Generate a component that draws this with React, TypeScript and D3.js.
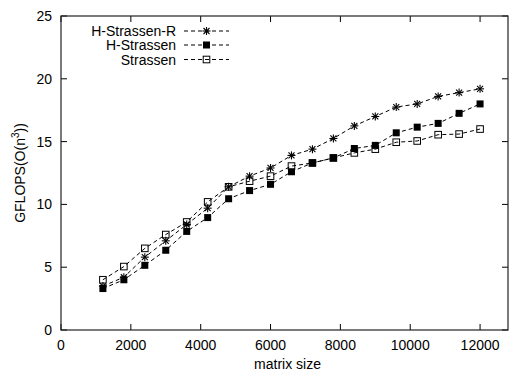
import React from "react";
import * as d3 from "d3";

const sizes = [1200, 1800, 2400, 3000, 3600, 4200, 4800, 5400, 6000, 6600, 7200, 7800, 8400, 9000, 9600, 10200, 10800, 11400, 12000];
const hStrassenR = [3.5, 4.2, 5.8, 7.1, 8.4, 9.7, 11.4, 12.25, 12.9, 13.9, 14.4, 15.25, 16.25, 17.0, 17.75, 18.0, 18.6, 18.9, 19.2];
const hStrassen = [3.3, 4.0, 5.15, 6.35, 7.85, 8.95, 10.45, 11.1, 11.6, 12.6, 13.3, 13.7, 14.45, 14.7, 15.7, 16.15, 16.45, 17.25, 18.0];
const strassen = [4.0, 5.05, 6.5, 7.6, 8.6, 10.2, 11.4, 11.85, 12.25, 13.05, 13.3, 13.7, 14.1, 14.4, 14.95, 15.05, 15.55, 15.6, 16.0];
const xTicks = [0, 2000, 4000, 6000, 8000, 10000, 12000];
const yTicks = [0, 5, 10, 15, 20, 25];
const seriesNames = ["H-Strassen-R", "H-Strassen", "Strassen"];

const W = 514, H = 371;
const L = 61, R = 508, T = 16, B = 330;
const FONT = "'Liberation Sans', Arial, Helvetica, sans-serif";

function Marker({ kind, x, y }: { kind: number; x: number; y: number }) {
  if (kind === 0) {
    const s = 4, d = 3;
    return (
      <g stroke="#000" strokeWidth={1.1}>
        <line x1={x - s} y1={y} x2={x + s} y2={y} />
        <line x1={x} y1={y - s} x2={x} y2={y + s} />
        <line x1={x - d} y1={y - d} x2={x + d} y2={y + d} />
        <line x1={x - d} y1={y + d} x2={x + d} y2={y - d} />
      </g>
    );
  }
  if (kind === 1) {
    return <rect x={x - 3.5} y={y - 3.5} width={7} height={7} fill="#000" />;
  }
  return <rect x={x - 3.3} y={y - 3.3} width={6.6} height={6.6} fill="none" stroke="#000" strokeWidth={1} />;
}

export default function App() {
  const x = d3.scaleLinear().domain([0, 12800]).range([L, R]);
  const y = d3.scaleLinear().domain([0, 25]).range([B, T]);
  const all = [hStrassenR, hStrassen, strassen];
  const line = d3
    .line<number>()
    .x((_, i) => x(sizes[i]))
    .y((v) => y(v));

  const legendRows = [36, 50, 64.5];
  return (
    <svg width={W} height={H} style={{ position: "absolute", left: 0, top: 0, background: "#fff" }} fontFamily={FONT}>
      <rect x={0} y={0} width={W} height={H} fill="#fff" />
      {/* ticks */}
      <g stroke="#000" strokeWidth={1}>
        {xTicks.map((t) => (
          <g key={"xt" + t}>
            <line x1={x(t)} y1={B} x2={x(t)} y2={B - 6} />
            <line x1={x(t)} y1={T} x2={x(t)} y2={T + 6} />
          </g>
        ))}
        {yTicks.map((t) => (
          <g key={"yt" + t}>
            <line x1={L} y1={y(t)} x2={L + 6} y2={y(t)} />
            <line x1={R} y1={y(t)} x2={R - 6} y2={y(t)} />
          </g>
        ))}
      </g>
      <rect x={L} y={T} width={R - L} height={B - T} fill="none" stroke="#222" strokeWidth={1.2} />
      {/* tick labels */}
      <g fontSize={14} fill="#000">
        {xTicks.map((t) => (
          <text key={"xl" + t} x={x(t)} y={350} textAnchor="middle">
            {t}
          </text>
        ))}
        {yTicks.map((t) => (
          <text key={"yl" + t} x={52} y={y(t) + 5} textAnchor="end">
            {t}
          </text>
        ))}
      </g>
      <text x={(L + R) / 2 + 3} y={369} textAnchor="middle" fontSize={14}>
        matrix size
      </text>
      <text transform={`translate(25,${(T + B) / 2}) rotate(-90)`} textAnchor="middle" fontSize={14}>
        GFLOPS(O(n<tspan dy={-6} fontSize={10}>3</tspan><tspan dy={6}>))</tspan>
      </text>
      {/* series */}
      {all.map((s, k) => (
        <g key={"s" + k}>
          <path d={line(s) || ""} fill="none" stroke="#000" strokeWidth={1} strokeDasharray="4,3" />
          {s.map((v, i) => (
            <Marker key={i} kind={k} x={x(sizes[i])} y={y(v)} />
          ))}
        </g>
      ))}
      {/* legend */}
      {seriesNames.map((n, k) => (
        <g key={"lg" + k}>
          <text x={176} y={legendRows[k]} textAnchor="end" fontSize={14}>
            {n}
          </text>
          <line x1={184} y1={legendRows[k] - 5} x2={229} y2={legendRows[k] - 5} stroke="#000" strokeWidth={1} strokeDasharray="4,3" />
          <Marker kind={k} x={206.5} y={legendRows[k] - 5} />
        </g>
      ))}
    </svg>
  );
}
